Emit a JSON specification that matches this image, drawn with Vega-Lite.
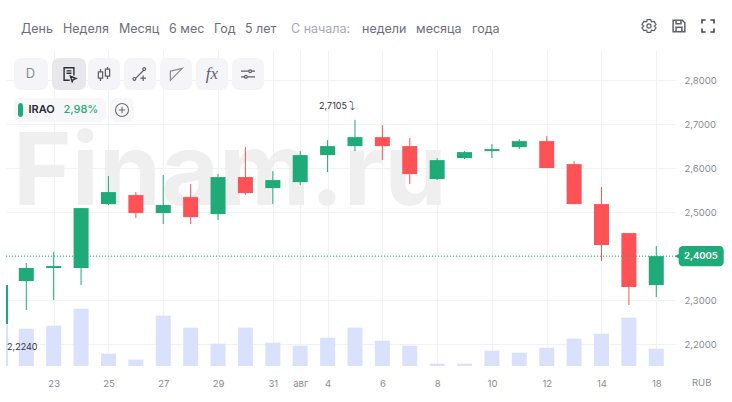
{
  "$schema": "https://vega.github.io/schema/vega-lite/v6.json",
  "description": "IRAO daily candles with volume",
  "autosize": {"type": "none"},
  "padding": {"left": 6, "top": 50, "right": 56, "bottom": 36},
  "width": 670,
  "height": 316,
  "background": "#ffffff",
  "config": {"view": {"stroke": null}, "font": "Inter"},
  "datasets": {
    "candles": [
      {"i": -0.94, "day": "21", "open": 2.2462, "high": 2.3348, "low": 2.2240, "close": 2.3348, "vol": 42.3},
      {"i": 0, "day": "22", "open": 2.3439, "high": 2.3848, "low": 2.2780, "close": 2.3735, "vol": 37.3},
      {"i": 1, "day": "23", "open": 2.3735, "high": 2.4098, "low": 2.3008, "close": 2.3780, "vol": 40.3},
      {"i": 2, "day": "24", "open": 2.3735, "high": 2.5098, "low": 2.3348, "close": 2.5098, "vol": 57.3},
      {"i": 3, "day": "25", "open": 2.5189, "high": 2.5826, "low": 2.5167, "close": 2.5462, "vol": 12.3},
      {"i": 4, "day": "26", "open": 2.5394, "high": 2.5462, "low": 2.4871, "close": 2.4985, "vol": 6.3},
      {"i": 5, "day": "27", "open": 2.4985, "high": 2.5848, "low": 2.4735, "close": 2.5167, "vol": 50.3},
      {"i": 6, "day": "28", "open": 2.5348, "high": 2.5644, "low": 2.4735, "close": 2.4894, "vol": 38.3},
      {"i": 7, "day": "29", "open": 2.4962, "high": 2.5871, "low": 2.4826, "close": 2.5803, "vol": 22.3},
      {"i": 8, "day": "30", "open": 2.5803, "high": 2.6485, "low": 2.5394, "close": 2.5439, "vol": 38.3},
      {"i": 9, "day": "31", "open": 2.5553, "high": 2.5939, "low": 2.5189, "close": 2.5735, "vol": 23.3},
      {"i": 10, "day": "1", "open": 2.5689, "high": 2.6394, "low": 2.5621, "close": 2.6303, "vol": 20.3},
      {"i": 11, "day": "4", "open": 2.6303, "high": 2.6644, "low": 2.5917, "close": 2.6508, "vol": 28.3},
      {"i": 12, "day": "5", "open": 2.6508, "high": 2.7105, "low": 2.6394, "close": 2.6712, "vol": 38.3},
      {"i": 13, "day": "6", "open": 2.6712, "high": 2.6989, "low": 2.6189, "close": 2.6508, "vol": 25.3},
      {"i": 14, "day": "7", "open": 2.6508, "high": 2.6689, "low": 2.5644, "close": 2.5871, "vol": 20.3},
      {"i": 15, "day": "8", "open": 2.5758, "high": 2.6235, "low": 2.5735, "close": 2.6189, "vol": 2.3},
      {"i": 16, "day": "9", "open": 2.6235, "high": 2.6394, "low": 2.6212, "close": 2.6371, "vol": 2.3},
      {"i": 17, "day": "10", "open": 2.6394, "high": 2.6553, "low": 2.6235, "close": 2.6439, "vol": 15.3},
      {"i": 18, "day": "11", "open": 2.6485, "high": 2.6667, "low": 2.6439, "close": 2.6621, "vol": 13.3},
      {"i": 19, "day": "12", "open": 2.6621, "high": 2.6735, "low": 2.6008, "close": 2.6008, "vol": 18.3},
      {"i": 20, "day": "13", "open": 2.6098, "high": 2.6167, "low": 2.5189, "close": 2.5189, "vol": 27.3},
      {"i": 21, "day": "14", "open": 2.5189, "high": 2.5576, "low": 2.3894, "close": 2.4258, "vol": 32.3},
      {"i": 22, "day": "15", "open": 2.4530, "high": 2.4530, "low": 2.2894, "close": 2.3303, "vol": 48.3},
      {"i": 23, "day": "18", "open": 2.3348, "high": 2.4235, "low": 2.3076, "close": 2.4005, "vol": 17.3}
    ]
  },
  "resolve": {"scale": {"y": "independent"}},
  "layer": [
    {
      "data": {"values": [{}]},
      "layer": [
        {"mark": {"type": "text", "x": 7, "y": 155, "text": "Finam.ru", "font": "Inter", "fontWeight": 700, "fontSize": 100, "align": "left", "baseline": "alphabetic", "color": "#eeeeee", "opacity": 0.9}},
        {"mark": {"type": "rule", "x": -0.5, "x2": -0.5, "y": -50, "y2": 352, "color": "#e8e8ee", "strokeWidth": 1.5}, "encoding": {}},
        {"mark": {"type": "rule", "x": -6, "x2": 720, "y": -44, "y2": -44, "color": "#ecebf3", "strokeWidth": 1.5}, "encoding": {}},
        {"mark": {"type": "rule", "x": 0, "x2": 720, "y": 0, "y2": 0, "color": "#ecebf3", "strokeWidth": 1.5}, "encoding": {}},
        {"mark": {"type": "rule", "x": 720.5, "x2": 720.5, "y": -50, "y2": 0, "color": "#ecebf3"}, "encoding": {}},
        {"mark": {"type": "rule", "x": 0, "x2": 726, "y": 316.3, "y2": 316.3, "color": "#e6e6ec", "strokeWidth": 1.2}, "encoding": {}},
        {"mark": {"type": "rule", "x": 669.5, "x2": 669.5, "y": 0, "y2": 348, "color": "#e6e6ec", "strokeWidth": 1.2}, "encoding": {}},
        {"mark": {"type": "rule", "x": 625, "x2": 625, "y": -33, "y2": -11, "color": "#ecebf0"}, "encoding": {}},

        {"mark": {"type": "text", "x": 15, "y": -21, "text": "День", "fontSize": 12.5, "align": "left", "baseline": "middle", "color": "#6e6e7c"}},
        {"mark": {"type": "text", "x": 57, "y": -21, "text": "Неделя", "fontSize": 12.5, "align": "left", "baseline": "middle", "color": "#6e6e7c"}},
        {"mark": {"type": "text", "x": 113, "y": -21, "text": "Месяц", "fontSize": 12.5, "align": "left", "baseline": "middle", "color": "#6e6e7c"}},
        {"mark": {"type": "text", "x": 163, "y": -21, "text": "6 мес", "fontSize": 12.5, "align": "left", "baseline": "middle", "color": "#6e6e7c"}},
        {"mark": {"type": "text", "x": 208, "y": -21, "text": "Год", "fontSize": 12.5, "align": "left", "baseline": "middle", "color": "#6e6e7c"}},
        {"mark": {"type": "text", "x": 239, "y": -21, "text": "5 лет", "fontSize": 12.5, "align": "left", "baseline": "middle", "color": "#6e6e7c"}},
        {"mark": {"type": "text", "x": 285, "y": -21, "text": "С начала:", "fontSize": 12.5, "align": "left", "baseline": "middle", "color": "#a8a8b2"}},
        {"mark": {"type": "text", "x": 356, "y": -21, "text": "недели", "fontSize": 12.5, "align": "left", "baseline": "middle", "color": "#6e6e7c"}},
        {"mark": {"type": "text", "x": 410, "y": -21, "text": "месяца", "fontSize": 12.5, "align": "left", "baseline": "middle", "color": "#6e6e7c"}},
        {"mark": {"type": "text", "x": 466, "y": -21, "text": "года", "fontSize": 12.5, "align": "left", "baseline": "middle", "color": "#6e6e7c"}},

        {"mark": {"type": "point", "x": 643, "y": -24, "size": 196, "filled": false, "stroke": "#5f5f6c", "strokeWidth": 1.2, "opacity": 1, "shape": "M-0.3,0 A0.3,0.3 0 1 0 0.3,0 A0.3,0.3 0 1 0 -0.3,0 M-0.25,-0.9 L0.25,-0.9 L0.35,-0.6 L0.75,-0.65 L1,-0.2 L0.75,0 L1,0.25 L0.75,0.65 L0.35,0.6 L0.25,0.9 L-0.25,0.9 L-0.35,0.6 L-0.75,0.65 L-1,0.25 L-0.75,0 L-1,-0.2 L-0.75,-0.65 L-0.35,-0.6 Z"}},
        {"mark": {"type": "point", "x": 673, "y": -24, "size": 170, "filled": false, "stroke": "#5f5f6c", "strokeWidth": 1.5, "opacity": 1, "shape": "M-0.9,-0.9 L0.5,-0.9 L0.9,-0.5 L0.9,0.9 L-0.9,0.9 Z M-0.45,-0.9 L-0.45,-0.35 L0.3,-0.35 L0.3,-0.9 M-0.45,0.9 L-0.45,0.2 L0.45,0.2 L0.45,0.9"}},
        {"mark": {"type": "point", "x": 702, "y": -24, "size": 144, "filled": false, "stroke": "#44444f", "strokeWidth": 1.6, "opacity": 1, "shape": "M-1,-0.4 L-1,-1 L-0.4,-1 M0.4,-1 L1,-1 L1,-0.4 M1,0.4 L1,1 L0.4,1 M-0.4,1 L-1,1 L-1,0.4"}},

        {"mark": {"type": "rect", "x": 8, "x2": 42, "y": 8, "y2": 40, "color": "#f5f5f7", "cornerRadius": 7}},
        {"mark": {"type": "rect", "x": 46, "x2": 80, "y": 8, "y2": 40, "color": "#e8e8ec", "cornerRadius": 7}},
        {"mark": {"type": "rect", "x": 82, "x2": 114, "y": 8, "y2": 40, "color": "#f5f5f7", "cornerRadius": 7}},
        {"mark": {"type": "rect", "x": 118, "x2": 150, "y": 8, "y2": 40, "color": "#f5f5f7", "cornerRadius": 7}},
        {"mark": {"type": "rect", "x": 154, "x2": 186, "y": 8, "y2": 40, "color": "#f5f5f7", "cornerRadius": 7}},
        {"mark": {"type": "rect", "x": 190, "x2": 222, "y": 8, "y2": 40, "color": "#f5f5f7", "cornerRadius": 7}},
        {"mark": {"type": "rect", "x": 226, "x2": 258, "y": 8, "y2": 40, "color": "#f5f5f7", "cornerRadius": 7}},
        {"mark": {"type": "text", "x": 24.5, "y": 24, "text": "D", "fontSize": 13, "align": "center", "baseline": "middle", "color": "#8b8b96"}},
        {"mark": {"type": "point", "x": 63, "y": 24, "size": 196, "filled": false, "stroke": "#2e2e38", "strokeWidth": 1.4, "opacity": 1, "shape": "M0.1,0.9 L-0.7,0.9 L-0.7,-0.9 L0.7,-0.9 L0.7,0.2 M-0.35,-0.45 L0.35,-0.45 M-0.35,-0.1 L0.35,-0.1 M0.2,0.3 L1,0.65 L0.6,0.8 L0.45,1.1 Z"}},
        {"mark": {"type": "point", "x": 98, "y": 24, "size": 196, "filled": false, "stroke": "#5f5f6c", "strokeWidth": 1.3, "opacity": 1, "shape": "M-0.8,-0.3 L-0.2,-0.3 L-0.2,0.6 L-0.8,0.6 Z M-0.5,-0.3 L-0.5,-0.7 M-0.5,0.6 L-0.5,1 M0.2,-0.7 L0.8,-0.7 L0.8,0.3 L0.2,0.3 Z M0.5,-0.7 L0.5,-1 M0.5,0.3 L0.5,0.7"}},
        {"mark": {"type": "point", "x": 134, "y": 24, "size": 196, "filled": false, "stroke": "#5f5f6c", "strokeWidth": 1.2, "opacity": 1, "shape": "M-0.6,0.6 L0.5,-0.5 M-1,0.7 A0.2,0.2 0 1 0 -0.6,0.7 A0.2,0.2 0 1 0 -1,0.7 M0.4,-0.7 A0.2,0.2 0 1 0 0.8,-0.7 A0.2,0.2 0 1 0 0.4,-0.7 M0.05,0.6 L0.85,0.6 M0.45,0.2 L0.45,1"}},
        {"mark": {"type": "point", "x": 170, "y": 24, "size": 196, "filled": false, "stroke": "#8b8b96", "strokeWidth": 1.2, "opacity": 1, "shape": "M-0.8,-0.4 L0.9,-0.8 L-0.8,0.9 Z"}},
        {"mark": {"type": "text", "x": 206, "y": 24, "text": "fx", "font": "Liberation Serif", "fontStyle": "italic", "fontSize": 17, "align": "center", "baseline": "middle", "color": "#5f5f6c"}},
        {"mark": {"type": "point", "x": 242, "y": 24, "size": 196, "filled": false, "stroke": "#5f5f6c", "strokeWidth": 1.2, "opacity": 1, "shape": "M-1,-0.4 L0.1,-0.4 M0.5,-0.4 L1,-0.4 M0.1,-0.4 A0.2,0.2 0 1 0 0.5,-0.4 A0.2,0.2 0 1 0 0.1,-0.4 M-1,0.4 L-0.5,0.4 M-0.1,0.4 L1,0.4 M-0.5,0.4 A0.2,0.2 0 1 0 -0.1,0.4 A0.2,0.2 0 1 0 -0.5,0.4"}},

        {"mark": {"type": "rect", "x": 8, "x2": 100, "y": 48, "y2": 72, "color": "#f7f7f9", "cornerRadius": 6}},
        {"mark": {"type": "rect", "x": 12, "x2": 17, "y": 53, "y2": 67, "color": "#1fab78", "cornerRadius": 2.5}},
        {"mark": {"type": "text", "x": 22.5, "y": 60, "text": "IRAO", "fontSize": 11, "fontWeight": 600, "align": "left", "baseline": "middle", "color": "#2b2b36"}},
        {"mark": {"type": "text", "x": 57.5, "y": 60, "text": "2,98%", "fontSize": 11, "fontWeight": 500, "align": "left", "baseline": "middle", "color": "#1fab78"}},
        {"mark": {"type": "rect", "x": 104, "x2": 128, "y": 48, "y2": 72, "color": "#f7f7f9", "cornerRadius": 6}},
        {"mark": {"type": "point", "x": 116, "y": 60, "size": 169, "filled": false, "stroke": "#6b6b78", "strokeWidth": 1.1, "opacity": 1, "shape": "M-1,0 A1,1 0 1 0 1,0 A1,1 0 1 0 -1,0 M-0.5,0 L0.5,0 M0,-0.5 L0,0.5"}},
        {"mark": {"type": "text", "x": 686, "y": 333, "text": "RUB", "fontSize": 9.5, "align": "left", "baseline": "middle", "color": "#8a8a96"}}
      ]
    },
    {
      "data": {"name": "candles"},
      "mark": {"type": "bar", "size": 15, "color": "#d8dffc", "clip": true, "opacity": 0.95},
      "encoding": {
        "x": {
          "field": "i",
          "type": "quantitative",
          "scale": {"domain": [-0.741, 23.72], "nice": false, "zero": false, "padding": 0},
          "axis": {
            "title": null,
            "values": [1, 3, 5, 7, 9, 10, 11, 13, 15, 17, 19, 21, 23],
            "labelExpr": "{'1':'23','3':'25','5':'27','7':'29','9':'31','10':'авг','11':'4','13':'6','15':'8','17':'10','19':'12','21':'14','23':'18'}[datum.value]",
            "domain": false,
            "ticks": false,
            "grid": true,
            "gridColor": "#f1f2f4",
            "labelColor": "#8a8a96",
            "labelFontSize": 9.5,
            "labelPadding": 12,
            "labelOverlap": false
          }
        },
        "y": {"field": "vol", "type": "quantitative", "scale": {"domain": [0, 316]}, "axis": null}
      }
    },
    {
      "encoding": {
        "x": {"field": "i", "type": "quantitative", "scale": {"domain": [-0.741, 23.72], "nice": false, "zero": false, "padding": 0}},
        "y": {
          "field": "price",
          "type": "quantitative",
          "scale": {"domain": [2.1507, 2.8693], "nice": false, "zero": false},
          "axis": {
            "title": null,
            "orient": "right",
            "values": [2.2, 2.3, 2.4, 2.5, 2.6, 2.7, 2.8],
            "labelExpr": "replace(format(datum.value, '.4f'), '.', ',')",
            "domain": false,
            "ticks": false,
            "grid": true,
            "gridColor": "#f1f2f4",
            "labelColor": "#8a8a96",
            "labelFontSize": 9.5,
            "labelPadding": 8
          }
        }
      },
      "layer": [
        {
          "data": {"name": "candles"},
          "mark": {"type": "rule", "strokeWidth": 1, "clip": true},
          "encoding": {
            "y": {"field": "low", "type": "quantitative", "scale": {"domain": [2.1507, 2.8693], "nice": false, "zero": false}},
            "y2": {"field": "high"},
            "color": {"condition": {"test": "datum.close >= datum.open", "value": "#1fab78"}, "value": "#ff5257"}
          }
        },
        {
          "data": {"name": "candles"},
          "mark": {"type": "bar", "size": 15, "clip": true},
          "encoding": {
            "y": {"field": "open", "type": "quantitative", "scale": {"domain": [2.1507, 2.8693], "nice": false, "zero": false}},
            "y2": {"field": "close"},
            "color": {"condition": {"test": "datum.close >= datum.open", "value": "#1fab78"}, "value": "#ff5257"}
          }
        },
        {
          "data": {"values": [{"price": 2.4005}]},
          "mark": {"type": "rule", "color": "#1fab78", "strokeDash": [1, 2], "strokeWidth": 1},
          "encoding": {"x": {"value": 0}, "x2": {"value": 670}}
        },
        {
          "data": {"values": [{"price": 2.4005}]},
          "mark": {"type": "point", "shape": "triangle-left", "size": 36, "filled": true, "color": "#1fab78", "opacity": 1},
          "encoding": {"x": {"value": 671.5}}
        },
        {
          "data": {"values": [{"price": 2.4235, "bottom": 2.3777}]},
          "mark": {"type": "rect", "color": "#1fab78", "cornerRadius": 4},
          "encoding": {"x": {"value": 672.7}, "x2": {"value": 717.7}, "y2": {"field": "bottom"}}
        },
        {
          "data": {"values": [{"price": 2.4005, "label": "2,4005"}]},
          "mark": {"type": "text", "align": "left", "baseline": "middle", "fontSize": 9.5, "fontWeight": 600, "color": "#ffffff"},
          "encoding": {"x": {"value": 678}, "text": {"field": "label"}}
        },
        {
          "data": {"values": [{"i": 12, "price": 2.7105, "label": "2,7105"}]},
          "mark": {"type": "text", "align": "right", "baseline": "middle", "fontSize": 9, "dx": -8, "dy": -14, "color": "#33333d"},
          "encoding": {"text": {"field": "label"}}
        },
        {
          "data": {"values": [{"i": 12, "price": 2.7105, "label": "⤵"}]},
          "mark": {"type": "text", "font": "DejaVu Sans", "align": "left", "baseline": "middle", "fontSize": 12, "dx": -6, "dy": -14, "color": "#5f5f6c"},
          "encoding": {"text": {"field": "label"}}
        },
        {
          "data": {"values": [{"i": -0.7, "price": 2.2240, "label": "2,2240"}]},
          "mark": {"type": "text", "align": "left", "baseline": "middle", "fontSize": 9, "dy": 13, "color": "#33333d"},
          "encoding": {"text": {"field": "label"}}
        }
      ]
    }
  ]
}
